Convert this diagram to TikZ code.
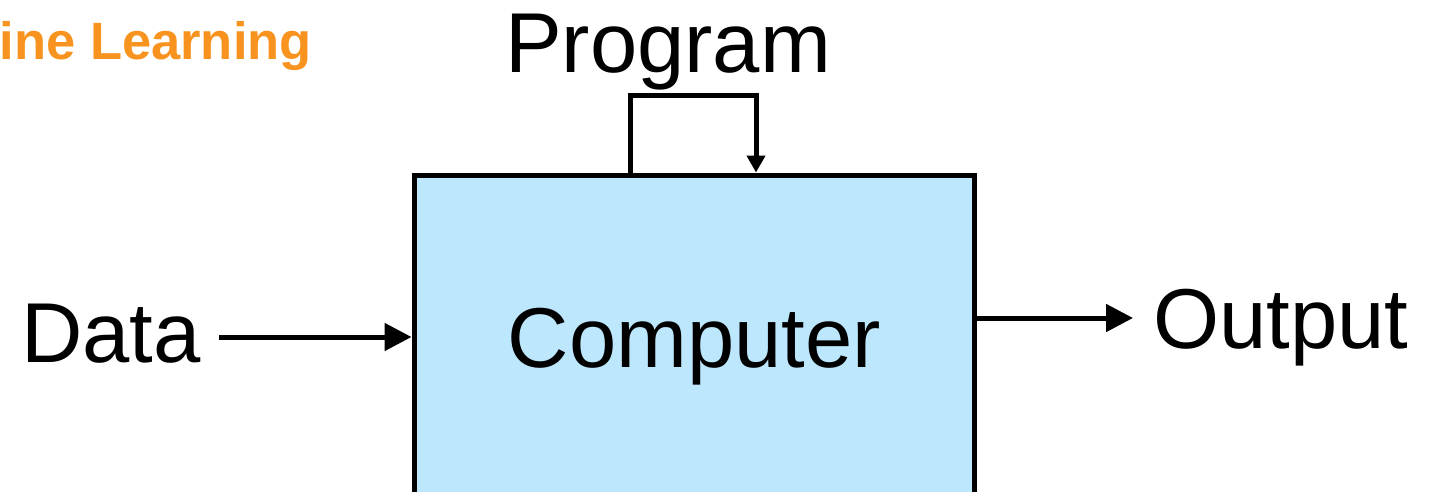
\documentclass[tikz,border=0pt]{standalone}
\usepackage{fontspec}
\setmainfont{Liberation Sans}
\usetikzlibrary{arrows.meta}
\definecolor{boxblue}{RGB}{189,231,252}
\definecolor{mlorange}{RGB}{247,147,30}
\tikzset{
  bigtext/.style={inner sep=0pt, font=\fontsize{85}{100}\selectfont},
  flow/.style={line width=5pt, -{Triangle[length=27pt,width=27pt]}},
  loopflow/.style={line width=5pt, -{Triangle[length=17pt,width=18pt]}},
  procbox/.style={draw, line width=5pt, fill=boxblue, rectangle,
                  minimum width=560pt, minimum height=445pt, inner sep=0pt},
}
\begin{document}
\begin{tikzpicture}[x=1pt,y=-1pt]
  \useasboundingbox (0,0) rectangle (1434,492);
  \clip (0,0) rectangle (1434,492);

  % header fragment
  \node[anchor=base east, inner sep=0pt, text=mlorange,
        font=\fontsize{52.5}{60}\selectfont\bfseries] (title) at (312,60) {ine Learning};

  % processing block
  \node[procbox] (box) at (694,397.5) {};
  \node[bigtext, anchor=base] (comp) at (694.5,367) {Computer};

  % labels
  \node[bigtext, anchor=base] (data) at (111,362) {Data};
  \node[bigtext, anchor=base] (out) at (1281,348) {Output};
  \node[bigtext, anchor=base] (prog) at (668,73) {Program};

  % connectors
  \coordinate (dstart) at (219,337);
  \coordinate (oend) at (1133,318);
  \draw[flow] (dstart) -- (box.west |- dstart);
  \draw[flow] (box.east |- oend) -- (oend);
  \coordinate (ploopl) at (630,96);
  \coordinate (ploopr) at (756,96);
  \draw[loopflow, line join=miter] (box.north -| ploopl) -- (ploopl) -- (ploopr) -- (box.north -| ploopr);
\end{tikzpicture}
\end{document}
